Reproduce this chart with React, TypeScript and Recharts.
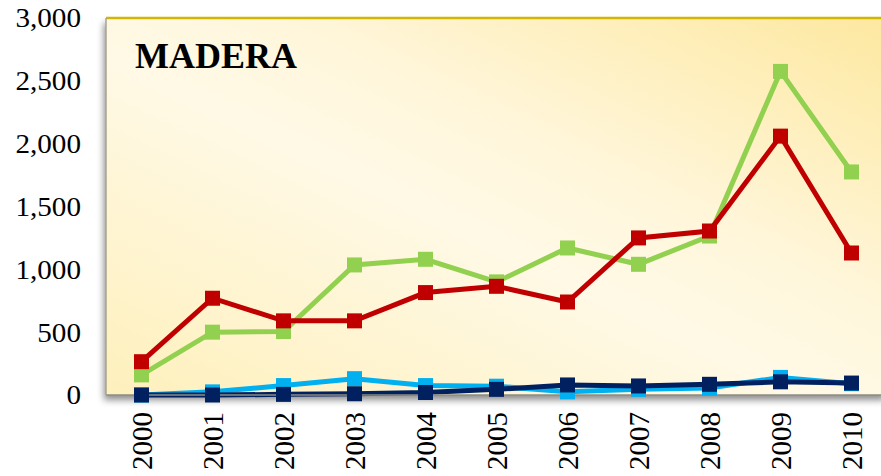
import React from "react";
import { LineChart, Line, XAxis, YAxis, CartesianGrid, ReferenceLine } from "recharts";

const years = ["2000", "2001", "2002", "2003", "2004", "2005", "2006", "2007", "2008", "2009", "2010"];
const greenSeries = [160, 500, 505, 1035, 1080, 900, 1170, 1040, 1265, 2575, 1775];
const redSeries = [265, 770, 590, 590, 815, 865, 740, 1250, 1305, 2060, 1130];
const lightBlueSeries = [0, 25, 75, 130, 75, 70, 25, 45, 55, 140, 90];
const darkBlueSeries = [0, 0, 5, 10, 20, 45, 80, 72, 85, 105, 95];
const yTicks = [0, 500, 1000, 1500, 2000, 2500, 3000];
const title = "MADERA";

const data = years.map((y, i) => ({
  year: y,
  green: greenSeries[i],
  red: redSeries[i],
  lightBlue: lightBlueSeries[i],
  darkBlue: darkBlueSeries[i],
}));

const FONT = "'Liberation Serif', 'Times New Roman', serif";

const squareDot = (color: string) => (props: any) => {
  const { cx, cy, index } = props;
  if (cx == null || cy == null) return <g key={index} />;
  const s = 15;
  return <rect key={index} x={cx - s / 2} y={cy - s / 2} width={s} height={s} fill={color} />;
};

const XTick = (props: any) => {
  const { x, y, payload } = props;
  return (
    <g transform={`translate(${x},${y})`}>
      <text
        transform="rotate(-90)"
        x={0}
        y={0}
        dy="0.35em"
        textAnchor="end"
        fontFamily={FONT}
        fontSize={29}
        fill="#000"
      >
        {payload.value}
      </text>
    </g>
  );
};

const YTick = (props: any) => {
  const { x, y, payload } = props;
  return (
    <g transform={`translate(${x},${y}) scale(1.08,1)`}>
      <text x={0} y={0} dy="0.35em" textAnchor="end" fontFamily={FONT} fontSize={27} fill="#000">
        {Number(payload.value).toLocaleString("en-US")}
      </text>
    </g>
  );
};

export default function App() {
  return (
    <div
      style={{
        position: "fixed",
        left: 0,
        top: 0,
        width: 881,
        height: 476,
        overflow: "hidden",
        background: "#fff",
      }}
    >
      <style>{`.recharts-cartesian-grid-bg { filter: url(#shadow); }`}</style>
      <LineChart
        width={887}
        height={476}
        data={data}
        margin={{ top: 18, right: 0, bottom: 0, left: 0 }}
      >
        <defs>
          <linearGradient id="bg" x1="0" y1="1" x2="1" y2="0">
            <stop offset="0" stopColor="#FEF0BC" />
            <stop offset="0.45" stopColor="#FFF9E6" />
            <stop offset="0.62" stopColor="#FFF6DA" />
            <stop offset="1" stopColor="#FDE8A0" />
          </linearGradient>
          <filter id="shadow" x="-5%" y="-5%" width="110%" height="120%">
            <feDropShadow dx="-2" dy="5" stdDeviation="3.5" floodColor="#000" floodOpacity="0.45" />
          </filter>
        </defs>
        <CartesianGrid horizontal={false} vertical={false} fill="url(#bg)" fillOpacity={1} />
        <XAxis
          dataKey="year"
          height={81}
          padding={{ left: 35.5, right: 35.5 }}
          tickLine={false}
          tickSize={0}
          tickMargin={17}
          axisLine={{ stroke: "#8C8C80", strokeWidth: 1.5 }}
          tick={<XTick />}
          interval={0}
        />
        <YAxis
          width={106}
          domain={[0, 3000]}
          ticks={yTicks}
          tickLine={false}
          tickSize={0}
          tickMargin={25}
          axisLine={{ stroke: "#A8A490", strokeWidth: 1.5 }}
          tick={<YTick />}
          interval={0}
        />
        <ReferenceLine y={3000} stroke="#D4B600" strokeWidth={2.5} />
        <text x={135} y={68} fontFamily={FONT} fontSize={36} fontWeight="bold" fill="#000">
          {title}
        </text>
        <Line
          dataKey="green"
          stroke="#92D050"
          strokeWidth={5}
          dot={squareDot("#92D050")}
          activeDot={false}
          isAnimationActive={false}
        />
        <Line
          dataKey="red"
          stroke="#C00000"
          strokeWidth={5}
          dot={squareDot("#C00000")}
          activeDot={false}
          isAnimationActive={false}
        />
        <Line
          dataKey="lightBlue"
          stroke="#00B0F0"
          strokeWidth={5}
          dot={squareDot("#00B0F0")}
          activeDot={false}
          isAnimationActive={false}
        />
        <Line
          dataKey="darkBlue"
          stroke="#002060"
          strokeWidth={5}
          dot={squareDot("#002060")}
          activeDot={false}
          isAnimationActive={false}
        />
      </LineChart>
    </div>
  );
}
